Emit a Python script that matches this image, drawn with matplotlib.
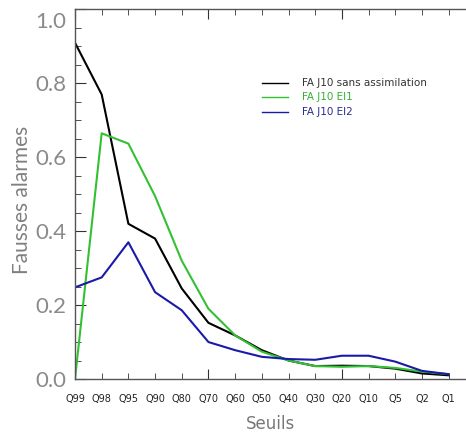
import matplotlib
matplotlib.use("Agg")
import matplotlib.pyplot as plt
import matplotlib.transforms as mtransforms

categories = ["Q99", "Q98", "Q95", "Q90", "Q80", "Q70", "Q60", "Q50",
              "Q40", "Q30", "Q20", "Q10", "Q5", "Q2", "Q1"]
sans_assim = [0.91, 0.77, 0.42, 0.38, 0.245, 0.152, 0.118, 0.078,
              0.05, 0.035, 0.036, 0.035, 0.028, 0.015, 0.01]
ei1 = [0.0, 0.665, 0.637, 0.495, 0.32, 0.19, 0.118, 0.074,
       0.05, 0.035, 0.033, 0.035, 0.03, 0.02, 0.013]
ei2 = [0.248, 0.275, 0.37, 0.235, 0.186, 0.10, 0.078, 0.06,
       0.054, 0.052, 0.063, 0.063, 0.047, 0.022, 0.013]
labels = ["FA J10 sans assimilation", "FA J10 EI1", "FA J10 EI2"]
colors = ["#000000", "#33c033", "#1a1aa8"]
text_colors = ["#333333", "#33b033", "#2a2a90"]

fig = plt.figure(figsize=(4.66, 4.36), dpi=100)
ax = fig.add_axes([75/466, 57/436, 1 - 75/466, (379 - 9.5)/436])

x = list(range(len(categories)))
for ys, c in zip([sans_assim, ei1, ei2], colors):
    ax.plot(x, ys, color=c, lw=1.5)

ax.set_xlim(0, 14.65)
ax.set_ylim(0, 1.0)
ax.spines["right"].set_visible(False)
for s in ["left", "bottom", "top"]:
    ax.spines[s].set_color("#555555")
    ax.spines[s].set_linewidth(1.0)

major = [0, 5, 10]
minor = [i for i in x if i not in major]
ax.set_xticks(major, [categories[i] for i in major])
ax.set_xticks(minor, [categories[i] for i in minor], minor=True)
ax.tick_params(axis="x", which="both", direction="in", top=True, bottom=True,
               labelsize=7, labelcolor="#222222", pad=11, color="#333333")
ax.tick_params(axis="x", which="major", length=7)
ax.tick_params(axis="x", which="minor", length=4)

ax.set_yticks([0, 0.2, 0.4, 0.6, 0.8, 1.0], ["0.0", "0.2", "0.4", "0.6", "0.8", "1.0"])
ax.set_yticks([i * 0.05 for i in range(21)], minor=True)
ax.tick_params(axis="y", which="both", direction="in", left=True, right=False,
               labelsize=16, labelcolor="#8a8a8a", color="#333333", pad=6)
ax.tick_params(axis="y", which="major", length=8)
ax.tick_params(axis="y", which="minor", length=4)
for t in ax.get_yticklabels():
    t.set_fontfamily("Lato")
lab_top = ax.get_yticklabels()[-1]
lab_top.set_transform(lab_top.get_transform() +
                      mtransforms.ScaledTranslation(0, -10/100, fig.dpi_scale_trans))

ax.set_xlabel("Seuils", fontsize=12, color="#777777", labelpad=8)
ax.set_ylabel("Fausses alarmes", fontsize=15, color="#808080", fontfamily="Lato")
ax.yaxis.set_label_coords(-0.11, 0.485)

# legend
for i, (lab, c, tc) in enumerate(zip(labels, colors, text_colors)):
    yfig = 1 - (83 + 14.5 * i) / 436
    fig.add_artist(plt.Line2D([262/466, 288/466], [yfig, yfig], color=c, lw=1.0,
                              transform=fig.transFigure))
    fig.text(302/466, yfig, lab, color=tc, fontsize=7.5, va="center", ha="left")

fig.savefig("out.png", dpi=100)
